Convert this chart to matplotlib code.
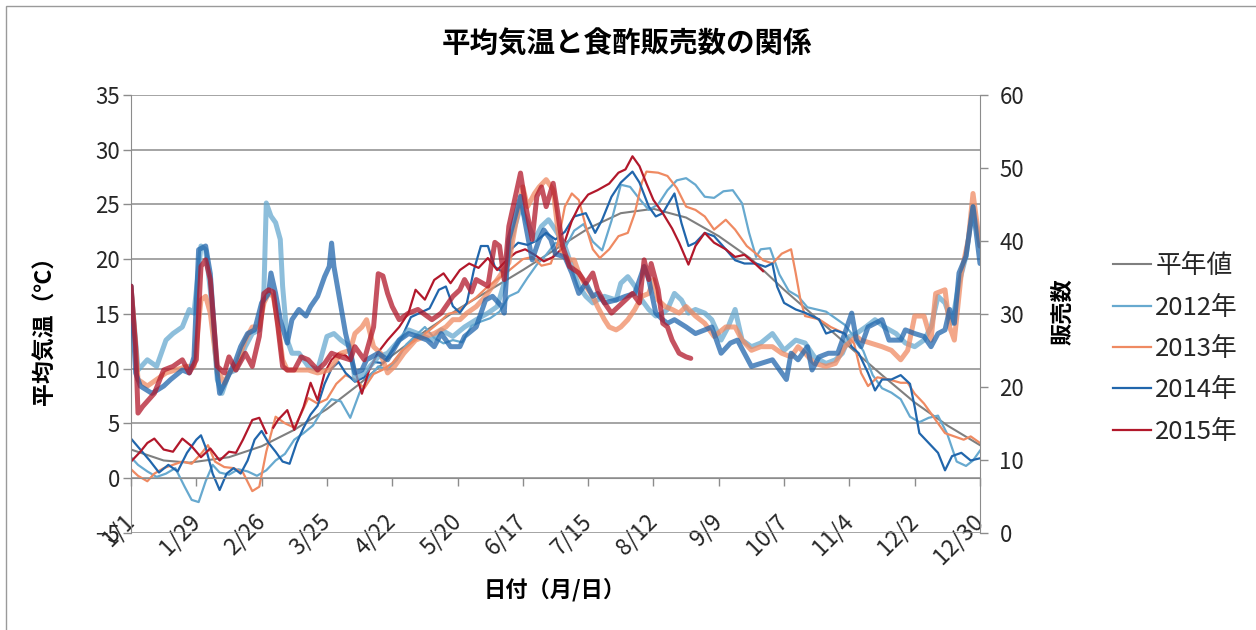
import matplotlib
matplotlib.use("Agg")
import matplotlib.pyplot as plt
from matplotlib.patches import Rectangle

plt.rcParams['font.family'] = ['Noto Sans CJK JP', 'DejaVu Sans']

nan = float('nan')

# x axis: day of year (leap-year calendar), tick every 28 days
tick_days = [0, 28, 56, 84, 112, 140, 168, 196, 224, 252, 280, 308, 336, 364]
tick_labels = ['1/1', '1/29', '2/26', '3/25', '4/22', '5/20', '6/17',
               '7/15', '8/12', '9/9', '10/7', '11/4', '12/2', '12/30']

series_names = ['平年値', '2012年', '2013年', '2014年', '2015年']
colors = ['#7f7f7f', '#67a9cf', '#ef8a62', '#2166ac', '#b2182b']

# 平年値 (normal temperature)
days_norm = [0, 14, 25, 42, 56, 70, 84, 98, 112, 126, 140, 154, 168, 182, 196,
             210, 224, 238, 252, 266, 280, 294, 308, 322, 336, 350, 364]
temp_norm = [2.6, 1.6, 1.4, 1.9, 2.9, 4.4, 6.3, 8.6, 11.2, 13.4, 15.4, 17.2, 19.0,
             20.9, 22.8, 24.2, 24.6, 23.8, 22.1, 20.0, 17.2, 14.6, 12.0, 9.4, 6.9,
             4.8, 3.0]

# temperatures (left axis)
days_t2012 = [0, 3, 7, 11, 15, 19, 23, 26, 29, 32, 35, 38, 42, 46, 50, 54, 58, 62,
              66, 70, 74, 78, 82, 86, 90, 94, 98, 102, 106, 110, 114, 118, 122, 126,
              130, 134, 138, 142, 146, 150, 154, 158, 162, 166, 170, 174, 178, 182,
              186, 190, 194, 198, 202, 206, 210, 214, 218, 222, 226, 230, 234, 238,
              242, 246, 250, 254, 258, 262, 265, 268, 270, 274, 278, 282, 286, 290,
              294, 298, 302, 306, 310, 314, 318, 322, 326, 330, 334, 338, 342, 346,
              350, 354, 358, 361, 364]
temp_2012 = [1.9, 1.2, 0.6, 0.1, 0.4, 0.9, -0.8, -2.0, -2.2, -0.3, 1.2, 0.5, 0.3,
             0.8, 0.6, 0.2, 0.7, 1.6, 2.2, 3.5, 4.1, 4.8, 6.2, 7.2, 7.0, 5.5, 7.8,
             9.2, 10.2, 9.9, 10.8, 12.2, 13.0, 13.8, 12.8, 12.3, 12.6, 12.4, 13.9,
             14.3, 14.6, 15.2, 16.6, 17.0, 18.3, 19.5, 20.4, 21.5, 21.0, 22.6, 23.2,
             21.6, 20.8, 23.5, 26.8, 26.6, 25.5, 24.5, 25.0, 26.3, 27.2, 27.4, 26.8,
             25.7, 25.6, 26.2, 26.3, 25.1, 22.4, 20.2, 20.9, 21.0, 18.6, 17.1, 16.6,
             15.6, 15.4, 15.2, 14.6, 14.0, 12.9, 11.6, 9.4, 8.2, 7.8, 7.2, 5.6, 5.1,
             5.5, 5.7, 4.0, 1.5, 1.1, 1.6, 2.5]

days_t2013 = [0, 3, 7, 10, 14, 18, 22, 26, 30, 33, 36, 40, 44, 48, 52, 55, 58, 62,
              66, 70, 73, 76, 80, 84, 88, 92, 96, 100, 104, 108, 112, 116, 120, 124,
              128, 132, 136, 140, 144, 148, 152, 156, 160, 164, 168, 172, 176, 180,
              183, 186, 189, 192, 195, 198, 201, 205, 209, 213, 216, 219, 221, 226,
              230, 234, 238, 242, 246, 250, 255, 259, 264, 268, 271, 275, 279, 283,
              285, 287, 289, 295, 300, 306, 310, 313, 316, 320, 325, 330, 333, 336,
              340, 345, 349, 353, 357, 360, 364]
temp_2013 = [0.8, 0.2, -0.3, 0.4, 0.9, 1.2, 1.5, 1.3, 2.2, 3.0, 1.5, 1.0, 0.9, 0.5,
             -1.2, -0.8, 2.4, 5.6, 5.0, 4.6, 5.9, 7.3, 6.8, 7.2, 8.6, 9.4, 9.0, 8.2,
             9.5, 9.9, 10.5, 11.6, 12.3, 12.9, 13.5, 14.2, 15.0, 15.2, 15.9, 16.5,
             17.3, 18.0, 18.6, 19.3, 20.0, 20.2, 19.4, 19.6, 21.5, 24.8, 26.0, 25.4,
             23.0, 20.9, 20.1, 20.9, 22.1, 22.4, 24.2, 27.0, 28.0, 27.9, 27.6, 26.5,
             24.8, 24.5, 23.9, 22.7, 23.6, 22.7, 21.2, 20.5, 19.9, 19.6, 20.5, 20.9,
             18.7, 16.3, 14.8, 14.5, 13.8, 13.2, 12.3, 9.6, 8.4, 9.2, 9.0, 8.7, 8.7,
             7.7, 6.8, 5.3, 4.1, 3.8, 3.5, 3.8, 3.2]

days_t2014 = [0, 4, 8, 12, 16, 20, 24, 28, 30, 32, 35, 38, 41, 44, 47, 50, 53, 56,
              59, 62, 65, 68, 71, 74, 77, 80, 83, 86, 89, 92, 96, 100, 104, 108, 112,
              116, 120, 124, 128, 132, 135, 138, 141, 144, 147, 150, 153, 156, 160,
              163, 166, 170, 174, 178, 182, 186, 190, 195, 199, 202, 206, 210, 215,
              218, 222, 225, 228, 231, 233, 236, 239, 242, 246, 250, 255, 259, 263,
              268, 272, 275, 277, 280, 285, 289, 295, 298, 302, 306, 309, 312, 316,
              319, 322, 326, 330, 334, 336, 338, 342, 346, 349, 352, 356, 360, 364]
temp_2014 = [3.6, 2.6, 1.6, 0.5, 1.2, 0.6, 2.3, 3.5, 3.9, 2.8, 0.4, -1.1, 0.4, 0.9,
             0.4, 1.6, 3.5, 4.3, 3.2, 2.4, 1.5, 1.3, 3.2, 4.6, 5.8, 6.6, 8.6, 10.0,
             10.6, 9.6, 8.8, 9.2, 10.6, 10.5, 11.6, 12.8, 14.7, 15.1, 15.5, 17.2,
             17.5, 15.7, 15.1, 16.0, 19.0, 21.2, 21.2, 19.3, 18.7, 20.9, 21.5, 21.3,
             21.7, 22.4, 21.8, 22.5, 23.9, 24.2, 22.4, 23.6, 25.7, 27.0, 28.0, 27.0,
             24.8, 23.9, 24.2, 25.3, 26.0, 23.3, 21.2, 21.5, 22.4, 22.1, 20.9, 19.9,
             19.6, 19.6, 19.3, 19.6, 17.5, 16.0, 15.4, 15.1, 14.5, 13.2, 13.5, 13.2,
             12.0, 11.4, 9.6, 8.0, 9.0, 9.0, 9.4, 8.6, 6.5, 4.1, 3.2, 2.3, 0.7, 2.0,
             2.3, 1.6, 1.8]

days_t2015 = [0, 4, 7, 10, 14, 18, 22, 26, 30, 34, 38, 42, 45, 48, 52, 55, 58, 59,
              61, 63, 67, 70, 74, 77, 80, 83, 86, 89, 92, 95, 99, 102, 106, 110, 115,
              119, 122, 126, 130, 134, 137, 141, 145, 149, 153, 157, 161, 165, 169,
              173, 177, 181, 185, 189, 192, 196, 200, 205, 209, 212, 215, 218, 221,
              224, 228, 232, 235, 239, 242, 246, 250, 255, 259, 263, 268, 271]
temp_2015 = [1.5, 2.4, 3.2, 3.6, 2.6, 2.4, 3.6, 2.9, 1.9, 2.7, 1.6, 2.4, 2.3, 3.5,
             5.3, 5.5, 4.1, nan, 4.6, 5.3, 6.2, 4.4, 6.5, 8.7, 7.1, 9.6, 10.8, 11.4,
             11.2, 10.6, 7.7, 9.8, 11.5, 12.6, 13.8, 15.1, 17.2, 16.3, 18.1, 18.7,
             17.8, 19.0, 19.6, 19.2, 20.1, 19.0, 19.9, 20.6, 20.9, 20.4, 19.8, 20.2,
             21.0, 23.5, 24.8, 25.9, 26.3, 26.9, 27.9, 28.2, 29.4, 28.5, 26.9, 25.4,
             24.2, 22.8, 21.5, 19.5, 21.2, 22.4, 21.5, 20.9, 20.2, 20.4, 19.5, 18.9]

# sales (right axis)
days_s2012 = [0, 3, 7, 11, 15, 18, 22, 25, 27, 30, 32, 34, 37, 39, 42, 45, 49, 52,
              55, 57, 58, 60, 62, 64, 65, 67, 69, 72, 76, 80, 84, 87, 90, 94, 96, 100,
              106, 110, 115, 119, 123, 129, 133, 138, 143, 148, 153, 157, 160, 163,
              167, 170, 173, 176, 179, 182, 186, 189, 192, 195, 198, 200, 203, 208,
              210, 213, 216, 219, 222, 225, 228, 230, 233, 236, 239, 242, 246, 249,
              253, 256, 259, 262, 266, 270, 275, 277, 280, 285, 289, 293, 298, 302,
              305, 308, 311, 315, 319, 323, 328, 332, 336, 340, 343, 346, 349, 352,
              355, 358, 361, 364]
sales_2012 = [33.8, 22.3, 23.7, 22.8, 26.4, 27.3, 28.2, 30.6, 30.1, 39.3, 38.8, 33.3,
              21.0, 19.1, 21.9, 22.3, 25.5, 27.3, 27.8, 33.3, 45.2, 43.4, 42.5, 40.2,
              33.8, 26.4, 24.6, 24.6, 22.8, 22.3, 26.9, 27.3, 26.4, 25.5, 21.0, 21.9,
              24.1, 24.6, 26.4, 27.8, 27.3, 26.4, 27.8, 26.9, 28.2, 29.2, 30.1, 31.0,
              34.2, 40.2, 44.7, 42.5, 40.2, 42.0, 42.9, 41.5, 39.3, 36.5, 33.8, 32.4,
              31.5, 31.9, 32.4, 31.9, 34.2, 35.1, 33.8, 31.9, 30.6, 29.7, 30.1, 30.6,
              32.8, 31.9, 30.1, 30.6, 30.1, 29.2, 26.4, 28.2, 30.6, 26.4, 25.5, 26.0,
              27.3, 26.4, 25.0, 26.4, 26.0, 24.1, 23.2, 23.7, 24.6, 26.9, 27.3, 28.2,
              29.2, 28.2, 27.3, 26.0, 25.5, 26.4, 28.2, 32.4, 31.5, 28.7, 34.2, 37.9,
              44.7, 39.3]

days_s2013 = [0, 3, 7, 11, 15, 19, 24, 27, 30, 32, 34, 37, 40, 42, 45, 49, 52, 55,
              57, 59, 61, 63, 65, 67, 72, 76, 80, 85, 87, 90, 94, 96, 99, 101, 104,
              107, 110, 113, 117, 122, 126, 130, 135, 138, 141, 144, 148, 152, 155,
              159, 162, 165, 168, 170, 173, 175, 178, 181, 183, 185, 188, 190, 192,
              195, 198, 200, 203, 205, 208, 210, 213, 216, 219, 222, 224, 226, 229,
              232, 235, 238, 242, 246, 250, 255, 259, 262, 266, 270, 275, 279, 283,
              286, 289, 293, 298, 302, 306, 311, 313, 317, 322, 326, 330, 333, 336,
              340, 343, 345, 349, 351, 353, 356, 359, 361, 364]
sales_2013 = [33.8, 21.0, 20.1, 21.0, 21.9, 22.3, 22.8, 22.8, 31.9, 32.4, 30.1, 22.3,
              20.5, 21.9, 22.8, 26.4, 28.2, 28.2, 31.5, 32.8, 32.4, 28.7, 23.7, 22.3,
              22.3, 22.3, 21.9, 22.3, 23.2, 24.6, 25.0, 27.3, 28.2, 29.2, 25.5, 24.6,
              21.9, 22.8, 24.6, 26.4, 26.9, 27.3, 28.2, 29.2, 29.2, 30.1, 31.0, 32.4,
              33.8, 35.6, 37.0, 42.5, 47.4, 44.7, 46.5, 47.4, 48.4, 47.0, 41.5, 38.2,
              37.4, 37.4, 35.6, 33.8, 32.4, 31.0, 29.2, 28.2, 27.8, 28.2, 29.2, 30.6,
              32.4, 32.8, 34.7, 31.9, 31.0, 30.6, 30.1, 31.0, 29.7, 28.7, 26.9, 28.2,
              28.2, 26.4, 25.0, 25.5, 25.5, 24.6, 24.1, 25.5, 24.6, 23.2, 22.8, 23.2,
              25.5, 26.9, 26.4, 26.0, 25.5, 25.0, 23.7, 25.0, 29.7, 29.7, 26.4, 32.8,
              33.3, 28.2, 26.4, 35.6, 40.2, 46.5, 39.3]

days_s2014 = [0, 2, 4, 9, 14, 17, 22, 25, 27, 29, 32, 34, 37, 38, 41, 45, 47, 50, 53,
              56, 59, 60, 62, 64, 67, 69, 72, 75, 77, 80, 83, 85, 86, 87, 90, 92, 94,
              96, 99, 101, 106, 110, 115, 119, 123, 127, 130, 133, 137, 141, 143, 148,
              152, 155, 159, 160, 162, 167, 169, 172, 175, 177, 180, 182, 186, 189,
              192, 195, 198, 200, 203, 208, 212, 216, 220, 222, 225, 228, 230, 233,
              238, 242, 246, 249, 253, 257, 260, 263, 266, 270, 275, 277, 281, 283,
              286, 290, 292, 295, 299, 303, 306, 309, 311, 313, 316, 319, 322, 325,
              330, 332, 336, 340, 343, 346, 349, 351, 353, 355, 358, 361, 364]
sales_2014 = [33.8, 21.9, 20.1, 19.1, 20.1, 21.0, 22.3, 21.9, 24.1, 38.8, 39.3, 35.5,
              21.9, 19.1, 21.0, 23.7, 25.5, 27.3, 27.8, 31.5, 32.8, 35.6, 32.8, 29.2,
              26.0, 29.2, 30.6, 29.7, 31.0, 32.4, 35.1, 36.5, 39.7, 36.5, 31.0, 27.3,
              24.6, 21.9, 22.3, 23.7, 24.6, 23.7, 26.4, 27.3, 26.9, 26.4, 25.5, 27.3,
              25.5, 25.5, 26.9, 28.2, 31.9, 32.4, 31.0, 30.1, 40.2, 46.1, 42.5, 37.4,
              40.2, 41.5, 40.2, 38.2, 37.8, 35.6, 32.8, 34.2, 32.4, 32.8, 31.5, 31.9,
              32.4, 32.8, 36.5, 34.7, 30.1, 29.2, 28.7, 29.2, 28.2, 27.3, 27.8, 28.2,
              24.6, 26.0, 26.4, 24.6, 22.8, 23.2, 23.7, 22.8, 21.0, 24.6, 23.7, 25.5,
              22.3, 24.1, 24.6, 24.6, 27.3, 30.1, 26.4, 25.5, 28.2, 28.7, 29.2, 26.4,
              26.4, 27.8, 27.3, 26.9, 25.5, 27.3, 27.8, 30.6, 28.7, 35.6, 37.9, 44.7,
              36.9]

days_s2015 = [0, 2, 3, 5, 10, 14, 18, 22, 25, 28, 30, 32, 34, 37, 40, 42, 45, 49, 52,
              55, 57, 59, 61, 63, 65, 67, 70, 73, 76, 80, 83, 86, 90, 94, 96, 100, 104,
              106, 108, 110, 112, 115, 119, 123, 129, 133, 138, 141, 143, 146, 148,
              153, 156, 158, 160, 162, 167, 169, 172, 174, 176, 178, 181, 183, 185,
              188, 192, 195, 198, 200, 203, 206, 209, 212, 215, 218, 220, 222, 223,
              226, 228, 230, 232, 235, 238, 240]
sales_2015 = [33.8, 25.5, 16.4, 17.3, 19.1, 22.3, 22.8, 23.7, 21.9, 23.7, 36.5, 37.4,
              34.7, 22.8, 21.9, 24.1, 22.3, 24.6, 22.8, 26.9, 32.8, 33.3, 33.0, 28.2,
              22.8, 22.3, 22.3, 24.1, 23.7, 22.3, 23.2, 24.6, 24.1, 23.7, 25.5, 23.7,
              28.2, 35.5, 35.2, 32.8, 31.0, 29.2, 30.1, 30.6, 29.2, 30.1, 32.4, 33.3,
              34.7, 33.0, 34.7, 33.8, 39.8, 39.3, 34.7, 42.0, 49.3, 45.2, 40.2, 46.1,
              47.4, 44.7, 47.9, 43.8, 39.3, 36.5, 35.6, 34.2, 35.6, 33.3, 31.5, 30.1,
              31.0, 31.9, 32.8, 31.5, 37.4, 34.7, 36.9, 33.3, 28.7, 28.2, 26.4, 24.6,
              24.1, 23.9]

temp_series = [(days_t2012, temp_2012), (days_t2013, temp_2013),
               (days_t2014, temp_2014), (days_t2015, temp_2015)]
sales_series = [(days_s2012, sales_2012), (days_s2013, sales_2013),
                (days_s2014, sales_2014), (days_s2015, sales_2015)]

W, H = 1256, 630
fig = plt.figure(figsize=(W / 100, H / 100), dpi=100)
ax = fig.add_axes([131 / W, 1 - 532.7 / H, 849 / W, 437.7 / H])
ax2 = ax.twinx()

grid_c = '#8c8c8c'
txt_c = '#262626'

# temperature lines (thin)
lines = []
l, = ax.plot(days_norm, temp_norm, color=colors[0], lw=1.5, label=series_names[0])
lines.append(l)
for (d, v), c, name in zip(temp_series, colors[1:], series_names[1:]):
    l, = ax.plot(d, v, color=c, lw=1.6, label=name)
    lines.append(l)

# sales lines (thick, translucent)
for (d, v), c in zip(sales_series, colors[1:]):
    ax2.plot(d, v, color=c, lw=3.6, alpha=0.75, solid_capstyle='round')

ax.set_xlim(0, 364)
ax.set_ylim(-5, 35)
ax2.set_ylim(0, 60)
ax.set_yticks(range(-5, 36, 5))
ax2.set_yticks(range(0, 61, 10))
ax.grid(axis='y', color=grid_c, lw=1.1)
ax.set_axisbelow(True)

for s in ['top', 'right']:
    ax.spines[s].set_visible(False)
ax.spines['bottom'].set_position(('data', 0))
ax.spines['bottom'].set_color(grid_c)
ax.spines['left'].set_color(grid_c)
for s in ['top', 'bottom', 'left']:
    ax2.spines[s].set_visible(False)
ax2.spines['right'].set_color(grid_c)

ax.set_xticks(tick_days)
ax.set_xticklabels(tick_labels, rotation=45, ha='right', va='center',
                   rotation_mode='anchor')
ax.tick_params(axis='x', length=6, width=1, color=grid_c, pad=23,
               labelsize=16.5, labelcolor=txt_c)
ax.tick_params(axis='y', length=6, width=1, color=grid_c, pad=2,
               labelsize=16, labelcolor=txt_c)
ax2.tick_params(axis='y', length=6, width=1, color=grid_c, pad=8,
                labelsize=16, labelcolor=txt_c)

fig.text(627 / W, 1 - 45 / H, '平均気温と食酢販売数の関係', ha='center', va='center',
         fontsize=20.5, fontweight='bold', color='black')
fig.text(555 / W, 1 - 590 / H, '日付（月/日）', ha='center', va='center',
         fontsize=16, fontweight='bold', color='black')
fig.text(45 / W, 1 - 325 / H, '平均気温（℃）', ha='center', va='center',
         rotation=90, fontsize=16.5, fontweight='bold', color='black')
fig.text(1063 / W, 1 - 312 / H, '販売数', ha='center', va='center',
         rotation=90, fontsize=16, fontweight='bold', color='black')

fig.legend(handles=lines, loc='center left', bbox_to_anchor=(1100 / W, 1 - 349 / H),
           frameon=False, fontsize=18.5, handlelength=1.5, handletextpad=0.15,
           labelspacing=0.6, borderpad=0, labelcolor=txt_c)

# chart border
fig.add_artist(Rectangle((6 / W, -0.1), 1.2, 1.1 - 6 / H, transform=fig.transFigure,
                         fill=False, ec='#9a9a9a', lw=1))

fig.savefig('out.png', dpi=100)
